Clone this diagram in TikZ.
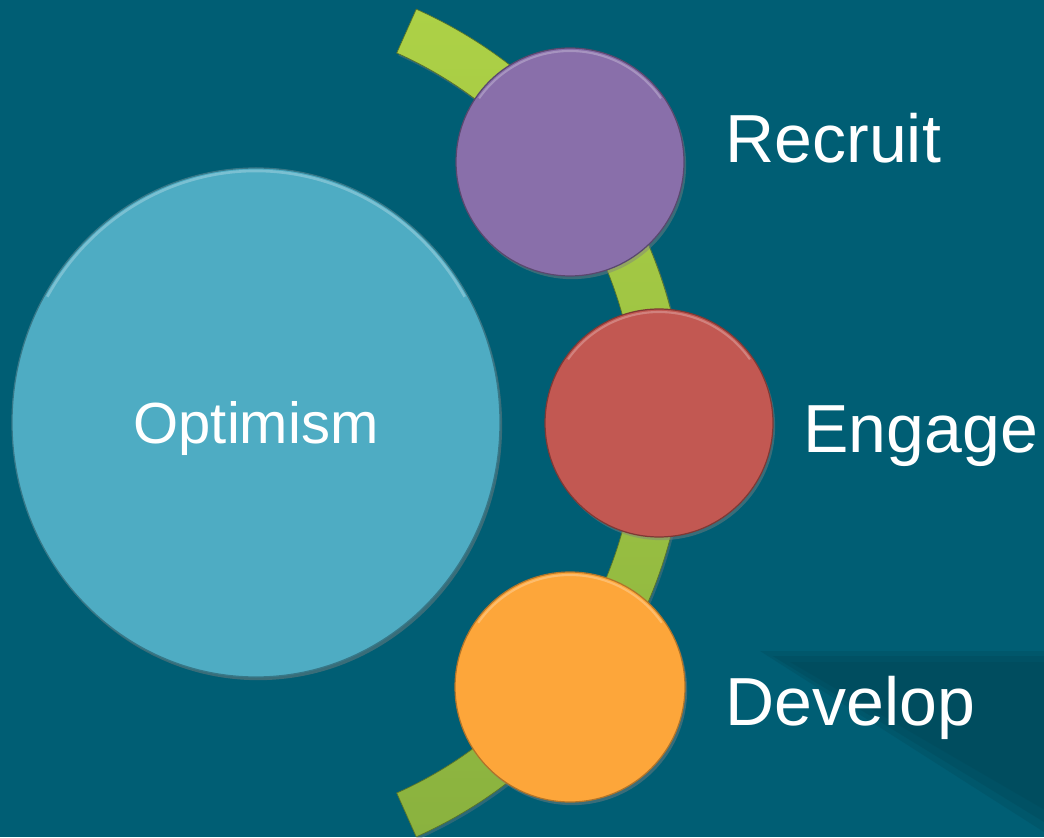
\documentclass[tikz,border=0pt]{standalone}
\usepackage{fontspec}
\setmainfont{Liberation Sans}
\usetikzlibrary{shadows,shapes.geometric}

\definecolor{bgteal}{HTML}{005E74}
\definecolor{shadeteal}{HTML}{004B5C}
\definecolor{optblue}{HTML}{4EACC3}
\definecolor{recpurple}{HTML}{896FAA}
\definecolor{engred}{HTML}{C25852}
\definecolor{devorange}{HTML}{FDA63A}
\definecolor{arcgreenA}{HTML}{ADD146}
\definecolor{arcgreenB}{HTML}{8AB23F}

\tikzset{
  bubble/.style={circle, minimum size=#1, inner sep=0pt, text=white,
    line width=0.7pt,
    drop shadow={opacity=0.45, shadow xshift=1.2pt, shadow yshift=-1.8pt}},
  rim/.style={white, opacity=0.25, line width=1.2pt},
  tag/.style={anchor=base west, inner sep=0pt, text=white,
    font=\fontsize{38.7}{46}\selectfont},
}

\begin{document}
\begin{tikzpicture}[line width=0.6pt]
  \useasboundingbox (0,0) rectangle (20.88,16.74);
  \fill[bgteal] (0,0) rectangle (20.88,16.74);

  % soft shadow in the lower right corner
  \fill[shadeteal, opacity=0.35] (15.20,3.72) -- (20.88,3.72) -- (20.88,0.10) -- cycle;
  \fill[shadeteal, opacity=0.45] (15.45,3.62) -- (20.88,3.62) -- (20.88,0.30) -- cycle;
  \fill[shadeteal, opacity=0.55] (15.80,3.50) -- (20.88,3.50) -- (20.88,0.55) -- cycle;

  % green band behind the small circles
  \coordinate (hub) at (4.64,8.28);
  \path[top color=arcgreenA, bottom color=arcgreenB, draw=arcgreenB!65!black, line width=0.4pt,
        drop shadow={opacity=0.35, shadow xshift=1pt, shadow yshift=-1.5pt}]
    (hub) ++(-66:8.10) arc[start angle=-66, end angle=66, radius=8.10]
    -- ++(66:0.96) arc[start angle=66, end angle=-66, radius=9.06] -- cycle;

  % circles
  \node[ellipse, minimum width=9.76cm, minimum height=10.18cm, inner sep=0pt, text=white,
        fill=optblue, draw=optblue!70!black, line width=0.7pt, text depth=0pt,
        drop shadow={opacity=0.45, shadow xshift=1.2pt, shadow yshift=-1.8pt},
        font=\fontsize{33}{40}\selectfont] (optimism) at (5.12,8.29) {Optimism};
  \node[bubble=4.56cm, fill=recpurple, draw=recpurple!65!black] (recruit) at (11.40,13.50) {};
  \node[bubble=4.56cm, fill=engred, draw=engred!65!black] (engage) at (13.18,8.28) {};
  \node[bubble=4.60cm, fill=devorange, draw=devorange!70!black] (develop) at (11.40,3.00) {};

  % rim highlights
  \draw[rim, line width=1.5pt] (optimism.center) ++(30:4.82 and 5.03)
    arc[start angle=30, end angle=150, x radius=4.82, y radius=5.03];
  \draw[rim] (recruit.center) ++(35:2.22) arc[start angle=35, end angle=145, radius=2.22];
  \draw[rim] (engage.center) ++(35:2.22) arc[start angle=35, end angle=145, radius=2.22];
  \draw[rim] (develop.center) ++(35:2.24) arc[start angle=35, end angle=145, radius=2.24];

  % labels
  \node[tag] (recruitlbl) at (14.50,13.48) {Recruit};
  \node[tag] (engagelbl) at (16.06,7.68) {Engage};
  \node[tag] (developlbl) at (14.50,2.24) {Develop};
\end{tikzpicture}
\end{document}
